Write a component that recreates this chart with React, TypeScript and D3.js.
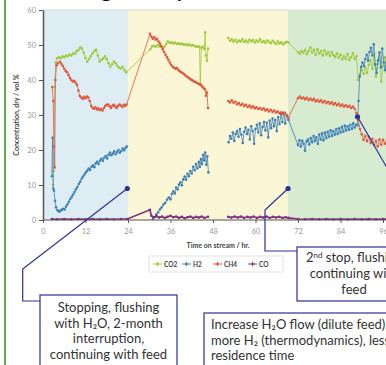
import React from "react";
import * as d3 from "d3";

type Pt = [number, number] | null;

// time on stream (hr) / concentration (vol %), null = gap in the line
const co2: Pt[] = [
  [2.8, 10], [3.0, 14], [3.3, 38], [3.6, 45], [4.0, 46.2], [4.5, 46.5], [5.0, 46.2], [5.5, 46.8],
  [6.0, 46.5], [6.5, 47.0], [7.0, 46.8], [7.5, 47.3], [8.0, 47.0], [8.5, 47.6], [9.0, 47.5],
  [9.5, 48.2], [10.0, 48.6], [10.5, 49.3], [11.0, 49.0], [11.5, 47.8], [12.0, 46.3], [12.5, 45.2],
  [13.0, 46.0], [13.5, 46.8], [14.0, 47.6], [14.5, 48.3], [15.0, 48.6], [15.5, 47.0], [16.0, 45.2],
  [16.5, 45.8], [17.0, 46.2], [17.5, 46.8], [18.0, 46.0], [18.5, 44.8], [19.0, 43.8], [19.5, 44.5],
  [20.0, 45.3], [20.5, 44.8], [21.0, 44.0], [21.5, 43.5], [22.0, 43.3], [22.5, 43.8], [23.0, 42.8],
  [23.5, 42.2],
  [30.3, 48.8], [30.8, 49.6], [31.3, 49.8], [31.8, 49.5], [32.3, 50.0], [32.8, 49.6], [33.3, 49.9],
  [33.8, 49.3], [34.3, 49.5], [34.8, 50.3], [35.3, 51.0], [35.8, 50.6], [36.3, 50.8], [36.8, 50.4],
  [37.3, 50.7], [37.8, 50.3], [38.3, 50.5], [38.8, 50.2], [39.3, 50.4], [39.8, 50.0], [40.3, 50.3],
  [40.8, 49.9], [41.3, 50.2], [41.8, 49.8], [42.3, 50.0], [42.8, 49.7], [43.3, 49.5], [43.8, 49.6],
  [44.2, 49.4], [44.4, 38.6], [44.7, 49.2], [45.2, 49.5], [45.5, 48.8], [45.8, 53.6], [46.0, 47.0],
  [46.3, 45.5], [46.6, 49.0],
  null,
  [52.3, 52.0], [52.8, 51.2], [53.3, 51.6], [53.8, 51.0], [54.3, 51.5], [54.8, 50.8], [55.3, 51.3],
  [55.8, 51.0], [56.3, 51.6], [56.8, 50.9], [57.3, 51.3], [57.8, 50.8], [58.3, 51.5], [58.8, 51.0],
  [59.3, 51.4], [59.8, 50.7], [60.3, 51.3], [60.8, 50.9], [61.3, 51.6], [61.8, 50.8], [62.3, 51.1],
  [62.8, 50.6], [63.3, 51.3], [63.8, 50.9], [64.3, 50.5], [64.8, 51.2], [65.3, 50.7], [65.8, 50.3],
  [66.3, 51.0], [66.8, 50.4], [67.3, 50.8], [67.8, 50.2], [68.3, 50.6], [68.8, 50.9], [69.3, 50.7],
  [72.0, 48.0], [72.5, 47.5], [73.0, 48.3], [73.5, 47.8], [74.0, 48.6], [74.5, 47.4], [75.0, 48.2],
  [75.5, 49.3], [76.0, 47.8], [76.5, 48.6], [77.0, 47.2], [77.5, 48.8], [78.0, 47.6], [78.5, 48.3],
  [79.0, 47.0], [79.5, 48.5], [80.0, 47.3], [80.5, 47.9], [81.0, 46.9], [81.5, 48.0], [82.0, 47.1],
  [82.5, 46.6], [83.0, 47.6], [83.5, 46.4], [84.0, 47.2], [84.5, 45.9], [85.0, 46.8], [85.5, 46.0],
  [86.0, 47.4], [86.5, 45.7], [87.0, 46.5], [87.5, 47.6], [88.0, 46.0], [88.5, 46.8], [89.0, 40.0],
  [89.5, 41.5], [90.0, 42.9], [90.5, 41.8], [91.0, 43.5], [91.5, 42.0], [92.0, 44.3], [92.5, 45.7],
  [93.0, 43.2], [93.5, 47.5], [94.0, 41.0], [94.5, 44.6], [95.0, 48.0], [95.5, 39.5], [96.0, 44.0],
  [96.5, 46.5], [97.0, 42.0], [97.5, 45.0],
];

const h2: Pt[] = [
  [2.5, 12.5], [2.7, 23.5], [2.9, 9.0], [3.1, 8.4], [3.4, 5.5], [3.7, 3.6], [4.1, 2.8], [4.5, 2.4],
  [4.9, 2.6], [5.3, 2.9], [5.7, 3.2], [6.1, 3.0], [6.5, 3.8], [6.9, 4.5], [7.3, 5.2], [7.7, 6.0],
  [8.1, 6.6], [8.5, 7.3], [8.9, 8.0], [9.3, 8.8], [9.7, 9.4], [10.1, 10.3], [10.5, 10.9], [10.9, 11.8],
  [11.3, 12.4], [11.7, 13.0], [12.1, 13.6], [12.5, 14.1], [12.9, 14.7], [13.3, 14.3], [13.7, 15.2],
  [14.1, 15.6], [14.5, 15.1], [14.9, 16.2], [15.3, 16.6], [15.7, 16.0], [16.1, 17.0], [16.5, 17.5],
  [16.9, 16.9], [17.3, 17.8], [17.7, 18.3], [18.1, 17.6], [18.5, 18.6], [18.9, 19.3], [19.3, 18.5],
  [19.7, 19.0], [20.1, 19.6], [20.5, 18.8], [20.9, 19.4], [21.3, 20.0], [21.7, 19.2], [22.1, 19.7],
  [22.5, 20.4], [22.9, 19.9], [23.3, 20.6], [23.7, 21.0],
  null,
  [31.0, 0.3], [31.5, 0.8], [32.0, 1.6], [32.5, 2.2], [33.0, 3.0], [33.5, 3.6], [34.0, 4.4],
  [34.5, 4.9], [35.0, 5.8], [35.5, 6.4], [36.0, 5.9], [36.4, 7.5], [36.8, 8.2], [37.2, 7.6],
  [37.6, 9.3], [38.0, 8.7], [38.4, 10.1], [38.8, 10.8], [39.2, 9.9], [39.6, 11.6], [40.0, 12.4],
  [40.4, 11.5], [40.8, 13.2], [41.2, 12.5], [41.6, 14.0], [42.0, 13.3], [42.4, 15.2], [42.8, 14.2],
  [43.2, 16.0], [43.6, 14.8], [44.0, 16.6], [44.3, 15.2], [44.6, 17.4], [44.9, 16.0], [45.2, 18.6],
  [45.5, 17.0], [45.8, 19.3], [46.1, 15.8], [46.4, 18.2], [46.7, 13.6],
  null,
  [52.4, 22.2], [52.8, 24.0], [53.2, 23.2], [53.6, 25.0], [54.0, 22.6], [54.4, 24.6], [54.8, 25.4],
  [55.2, 23.8], [55.6, 26.0], [56.0, 24.4], [56.4, 22.0], [56.8, 25.2], [57.2, 26.4], [57.6, 24.6],
  [58.0, 25.8], [58.4, 23.0], [58.8, 26.8], [59.2, 25.4], [59.6, 21.8], [60.0, 26.0], [60.4, 27.2],
  [60.8, 25.0], [61.2, 27.6], [61.6, 24.2], [62.0, 26.6], [62.4, 28.0], [62.8, 25.6], [63.2, 27.8],
  [63.6, 23.6], [64.0, 28.4], [64.4, 26.2], [64.8, 29.0], [65.2, 26.8], [65.6, 28.6], [66.0, 25.4],
  [66.4, 29.4], [66.8, 27.4], [67.2, 30.2], [67.6, 28.0], [68.0, 30.6], [68.4, 27.6], [68.8, 30.0],
  [69.3, 28.6],
  [72.0, 21.4], [72.4, 22.8], [72.8, 21.0], [73.2, 22.6], [73.6, 21.8], [74.0, 19.8], [74.4, 22.4],
  [74.8, 23.0], [75.2, 21.6], [75.6, 23.4], [76.0, 22.2], [76.4, 24.0], [76.8, 22.6], [77.2, 23.6],
  [77.6, 21.8], [78.0, 24.4], [78.4, 23.0], [78.8, 24.8], [79.2, 22.8], [79.6, 25.0], [80.0, 23.4],
  [80.4, 25.2], [80.8, 23.8], [81.2, 25.6], [81.6, 24.0], [82.0, 25.4], [82.4, 24.4], [82.8, 26.0],
  [83.2, 24.6], [83.6, 26.2], [84.0, 25.0], [84.4, 26.6], [84.8, 25.2], [85.2, 27.0], [85.6, 25.6],
  [86.0, 26.8], [86.4, 25.8], [86.8, 27.2], [87.2, 26.0], [87.6, 27.6], [88.0, 26.4], [88.4, 27.2],
  [88.8, 27.0], [89.1, 34.0], [89.4, 41.0], [89.8, 43.7], [90.2, 45.0], [90.6, 44.0], [91.0, 46.0],
  [91.4, 47.2], [91.8, 45.5], [92.2, 48.0], [92.6, 49.2], [93.0, 47.0], [93.4, 50.2], [93.8, 44.5],
  [94.2, 42.0], [94.6, 45.6], [95.0, 47.8], [95.4, 43.6], [95.8, 49.0], [96.2, 45.0], [96.6, 42.8],
  [97.0, 46.4],
];

const ch4: Pt[] = [
  [2.6, 38], [2.9, 34], [3.1, 21], [3.3, 15], [3.5, 40], [3.8, 44.2], [4.2, 44.8], [4.8, 45.2],
  [5.2, 44.6], [5.6, 44.0], [6.0, 43.2], [6.4, 42.6], [6.8, 42.2], [7.2, 41.4], [7.6, 40.6],
  [8.0, 40.0], [8.4, 39.6], [8.8, 39.8], [9.2, 39.2], [9.6, 38.6], [10.0, 37.0], [10.4, 35.4],
  [10.8, 35.0], [11.2, 34.6], [11.6, 35.2], [12.0, 34.8], [12.4, 35.3], [12.8, 35.0], [13.2, 34.0],
  [13.6, 32.6], [14.0, 32.0], [14.4, 31.8], [14.8, 32.2], [15.2, 31.6], [15.6, 31.9], [16.0, 31.4],
  [16.4, 31.7], [16.8, 31.3], [17.2, 32.0], [17.6, 32.6], [18.0, 32.9], [18.4, 33.0], [18.8, 32.5],
  [19.2, 32.0], [19.6, 32.6], [20.0, 32.9], [20.4, 32.4], [20.8, 32.0], [21.2, 32.6], [21.6, 33.0],
  [22.0, 32.7], [22.4, 32.3], [22.8, 32.9], [23.2, 32.6], [23.6, 33.0],
  [30.2, 53.2], [30.6, 52.4], [31.0, 51.8], [31.4, 52.2], [31.8, 51.5], [32.2, 51.8], [32.6, 51.0],
  [33.0, 50.4], [33.4, 49.6], [33.8, 48.8], [34.2, 48.0], [34.6, 47.2], [35.0, 46.5], [35.4, 45.8],
  [35.8, 45.0], [36.2, 44.3], [36.6, 43.8], [37.0, 43.5], [37.4, 43.2], [37.8, 43.4], [38.2, 42.9],
  [38.6, 42.5], [39.0, 42.2], [39.4, 42.0], [39.8, 41.7], [40.2, 41.3], [40.6, 41.0], [41.0, 40.7],
  [41.4, 40.4], [41.8, 40.1], [42.2, 39.9], [42.6, 39.6], [43.0, 39.4], [43.4, 39.2], [43.8, 39.0],
  [44.2, 38.8], [44.6, 38.6], [45.0, 38.1], [45.4, 37.6], [45.8, 37.3], [46.0, 35.5], [46.3, 36.4],
  [46.6, 32.0],
  null,
  [52.3, 34.0], [52.8, 33.6], [53.3, 34.2], [53.8, 33.5], [54.3, 33.8], [54.8, 33.1], [55.3, 33.4],
  [55.8, 32.8], [56.3, 33.2], [56.8, 32.6], [57.3, 32.9], [57.8, 32.3], [58.3, 32.7], [58.8, 32.1],
  [59.3, 32.5], [59.8, 31.9], [60.3, 32.2], [60.8, 31.7], [61.3, 32.0], [61.8, 31.5], [62.3, 31.9],
  [62.8, 31.3], [63.3, 31.6], [63.8, 31.0], [64.3, 31.5], [64.8, 30.9], [65.3, 31.3], [65.8, 30.7],
  [66.3, 31.0], [66.8, 30.5], [67.3, 30.8], [67.8, 30.3], [68.3, 30.6], [68.8, 29.8], [69.3, 29.3],
  [72.0, 34.8], [72.5, 35.3], [73.0, 34.7], [73.5, 35.0], [74.0, 34.5], [74.5, 34.9], [75.0, 34.3],
  [75.5, 34.7], [76.0, 34.2], [76.5, 34.6], [77.0, 33.9], [77.5, 34.3], [78.0, 33.8], [78.5, 34.2],
  [79.0, 33.6], [79.5, 34.0], [80.0, 33.4], [80.5, 33.8], [81.0, 33.2], [81.5, 33.6], [82.0, 33.0],
  [82.5, 33.4], [83.0, 32.8], [83.5, 33.2], [84.0, 32.6], [84.5, 33.0], [85.0, 32.4], [85.5, 32.8],
  [86.0, 32.3], [86.5, 32.6], [87.0, 32.0], [87.5, 32.4], [88.0, 31.8], [88.5, 30.5], [89.0, 28.6],
  [89.5, 26.0], [90.0, 24.5], [90.5, 22.9], [91.0, 24.0], [91.5, 22.5], [92.0, 23.8], [92.5, 22.0],
  [93.0, 23.2], [93.5, 21.4], [94.0, 22.6], [94.5, 21.0], [95.0, 23.0], [95.5, 21.5], [96.0, 22.9],
  [96.5, 21.8], [97.0, 22.5],
];

const co: Pt[] = [
  [2.5, 0.3], [4, 0.2], [6, 0.3], [8, 0.2], [10, 0.3], [12, 0.2], [14, 0.3], [16, 0.2], [18, 0.3],
  [20, 0.2], [22, 0.3], [23.8, 0.3],
  [30.2, 2.9], [30.6, 1.2], [31.2, 0.8], [32.0, 1.1], [32.8, 0.7], [33.6, 1.0], [34.4, 0.6],
  [35.2, 0.9], [36.0, 1.2], [36.8, 0.8], [37.6, 1.0], [38.4, 0.6], [39.2, 0.9], [40.0, 0.5],
  [40.8, 0.8], [41.6, 1.0], [42.4, 0.6], [43.2, 0.9], [44.0, 0.7], [44.8, 1.0], [45.6, 0.6],
  [46.6, 0.9],
  null,
  [52.3, 0.9], [53.2, 0.7], [54.1, 1.0], [55.0, 0.7], [55.9, 1.0], [56.8, 0.6], [57.7, 0.9],
  [58.6, 0.7], [59.5, 1.0], [60.4, 0.6], [61.3, 0.9], [62.2, 0.7], [63.1, 1.0], [64.0, 0.6],
  [64.9, 0.9], [65.8, 0.7], [66.7, 0.9], [67.6, 0.6], [68.5, 0.8], [69.3, 0.6],
  [72, 0.3], [74, 0.2], [76, 0.3], [78, 0.2], [80, 0.3], [82, 0.2], [84, 0.3], [86, 0.2], [88, 0.3],
  [90, 0.2], [92, 0.3], [94, 0.2], [96, 0.3], [98, 0.2],
];

const seriesNames = ["CO2", "H2", "CH4", "CO"];
const seriesColors = ["#9dc93b", "#3d80b6", "#e2553b", "#7e2f7e"];

// background phases (hr)
const phaseStart = [0, 24, 69.2];
const phaseEnd = [24, 69.2, 100];
const phaseColors = ["#ddedf3", "#fbf6d5", "#d6ebd0"];

const xTicks = [0, 12, 24, 36, 48, 60, 72, 84, 96];
const yTicks = [0, 10, 20, 30, 40, 50, 60];

class App extends React.Component {
  constructor(props: any) {
    super(props);
    this.createChart = this.createChart.bind(this);
  }

  componentDidMount() {
    document.body.style.margin = "0";
    this.createChart();
  }

  createChart() {
    var width = 386,
      height = 365;
    var svg = d3
      .select("#chart")
      .append("svg")
      .attr("width", width)
      .attr("height", height)
      .style("display", "block")
      .style("background", "#fff");

    var x = d3.scaleLinear().domain([0, 96]).range([43, 383]);
    var y = d3.scaleLinear().domain([0, 60]).range([220, 10]);
    var navy = "#2c2f9c";

    // page heading, cut off by the crop
    svg
      .append("text")
      .attr("x", 45)
      .attr("y", -3)
      .attr("font-family", "Lato, sans-serif")
      .attr("font-weight", 700)
      .attr("font-size", 21)
      .attr("fill", "#111")
      .text("Testing activity");

    // green rule on the left
    svg
      .append("line")
      .attr("x1", 5)
      .attr("x2", 5)
      .attr("y1", 0)
      .attr("y2", height)
      .attr("stroke", "#5fae4a")
      .attr("stroke-width", 2);

    // phase bands
    svg
      .selectAll("rect.phase")
      .data(phaseStart)
      .enter()
      .append("rect")
      .attr("class", "phase")
      .attr("x", (d) => x(d))
      .attr("y", y(60))
      .attr("width", (d, i) => x(phaseEnd[i]) - x(d))
      .attr("height", y(0) - y(60))
      .attr("fill", (d, i) => phaseColors[i]);

    svg
      .append("line")
      .attr("x1", x(0))
      .attr("x2", width)
      .attr("y1", y(60))
      .attr("y2", y(60))
      .attr("stroke", "#d8d8d8")
      .attr("stroke-width", 1);

    // series
    var allSeries = [co2, h2, ch4, co];
    var line = d3
      .line<Pt>()
      .defined((d) => d !== null)
      .x((d) => x((d as [number, number])[0]))
      .y((d) => y((d as [number, number])[1]));

    allSeries.forEach(function (s, i) {
      svg
        .append("path")
        .datum(s)
        .attr("d", line)
        .attr("fill", "none")
        .attr("stroke", seriesColors[i])
        .attr("stroke-width", i === 3 ? 1.6 : 0.8);
      svg
        .append("g")
        .selectAll("circle")
        .data(s.filter((d) => d !== null) as [number, number][])
        .enter()
        .append("circle")
        .attr("cx", (d) => x(d[0]))
        .attr("cy", (d) => y(d[1]))
        .attr("r", 1.3)
        .attr("fill", seriesColors[i]);
    });

    // axes
    var yAxis = svg
      .append("g")
      .attr("transform", "translate(" + x(0) + ",0)")
      .call(d3.axisLeft(y).tickValues(yTicks).tickSize(4).tickSizeOuter(0).tickPadding(3));
    yAxis.select(".domain").attr("stroke", "#555").attr("stroke-width", 1.5);
    yAxis.selectAll(".tick line").attr("stroke", "#555");
    yAxis
      .selectAll("text")
      .attr("font-family", "Lato, sans-serif")
      .attr("font-size", 7.5)
      .attr("fill", "#9a9a9a");

    var xAxis = svg
      .append("g")
      .attr("transform", "translate(0," + y(0) + ")")
      .call(d3.axisBottom(x).tickValues(xTicks).tickSize(3).tickSizeOuter(0).tickPadding(6));
    xAxis.select(".domain").attr("stroke", "#555").attr("stroke-width", 1.2).attr("d", "M" + x(0) + ",0H" + width);
    xAxis.selectAll(".tick line").attr("stroke", "#555");
    xAxis
      .selectAll("text")
      .attr("font-family", "Lato, sans-serif")
      .attr("font-size", 7.5)
      .attr("fill", "#9a9a9a");

    // axis titles
    svg
      .append("text")
      .attr("x", 218)
      .attr("y", 248)
      .attr("text-anchor", "middle")
      .attr("font-family", "Lato, sans-serif")
      .attr("font-weight", 700)
      .attr("font-size", 7)
      .attr("fill", "#444")
      .text("Time on stream / hr.");

    svg
      .append("text")
      .attr("transform", "translate(19," + (y(30) + 0) + ") rotate(-90)")
      .attr("text-anchor", "middle")
      .attr("font-family", "Lato, sans-serif")
      .attr("font-weight", 700)
      .attr("font-size", 7)
      .attr("fill", "#444")
      .text("Concentration, dry / vol %");

    // legend
    var legend = svg.append("g").attr("transform", "translate(149,256)");
    legend
      .append("rect")
      .attr("width", 134)
      .attr("height", 16)
      .attr("fill", "#fff")
      .attr("stroke", "#e2e2e2");
    var legendX = [4, 33, 64, 99];
    seriesNames.forEach(function (name, i) {
      var g = legend.append("g").attr("transform", "translate(" + legendX[i] + ",8)");
      g.append("line").attr("x1", 0).attr("x2", 9).attr("stroke", seriesColors[i]).attr("stroke-width", 0.9);
      g.append("path")
        .attr("d", "M4.5,-2V2M2.5,0H6.5")
        .attr("stroke", seriesColors[i])
        .attr("stroke-width", 1);
      g.append("text")
        .attr("x", 11)
        .attr("y", 2.5)
        .attr("font-family", "Lato, sans-serif")
        .attr("font-weight", 700)
        .attr("font-size", 6.5)
        .attr("fill", "#444")
        .text(name);
    });

    // annotations
    var font = "Lato, sans-serif";
    function box(bx: number, by: number, bw: number, bh: number) {
      svg
        .append("rect")
        .attr("x", bx)
        .attr("y", by)
        .attr("width", bw)
        .attr("height", bh)
        .attr("fill", "#fff")
        .attr("stroke", navy)
        .attr("stroke-width", 1.2);
    }
    function lines(tx: number, ty: number, anchor: string, rows: string[]) {
      var t = svg
        .append("text")
        .attr("font-family", font)
        .attr("font-size", 13)
        .attr("fill", "#333")
        .attr("text-anchor", anchor);
      rows.forEach(function (r, i) {
        t.append("tspan").attr("x", tx).attr("y", ty + i * 15.6).text(r);
      });
      return t;
    }
    function connector(pts: [number, number][]) {
      svg
        .append("path")
        .attr("d", d3.line()(pts))
        .attr("fill", "none")
        .attr("stroke", navy)
        .attr("stroke-width", 1.2);
      svg
        .append("circle")
        .attr("cx", pts[0][0])
        .attr("cy", pts[0][1])
        .attr("r", 2.6)
        .attr("fill", navy);
    }

    connector([
      [x(23.8), y(9)],
      [22.7, 269],
      [22.7, 301],
      [40, 301],
    ]);
    box(40, 295, 137, 90);
    lines(108.5, 312, "middle", ["Stopping, flushing", "with H\u2082O, 2-month", "interruption,", "continuing with feed"]);

    connector([
      [x(69.2), y(9)],
      [265, 210],
      [265, 251],
      [297, 251],
    ]);
    box(297, 247, 114, 54);
    var t2 = svg
      .append("text")
      .attr("font-family", font)
      .attr("font-size", 13)
      .attr("fill", "#333")
      .attr("text-anchor", "middle")
      .attr("x", 354)
      .attr("y", 262);
    t2.append("tspan").text("2");
    t2.append("tspan").attr("font-size", 8).attr("dy", -4).text("nd");
    t2.append("tspan").attr("dy", 4).text(" stop, flushing");
    lines(354, 278, "middle", ["continuing with", "feed"]);

    connector([
      [x(88.8), y(29.5)],
      [420, 225],
    ]);

    box(204, 313, 220, 70);
    lines(211, 329, "start", [
      "Increase H\u2082O flow (dilute feed),",
      "more H\u2082 (thermodynamics), less",
      "residence time",
    ]);
  }

  render() {
    return <div id="chart"></div>;
  }
}
export default App;
